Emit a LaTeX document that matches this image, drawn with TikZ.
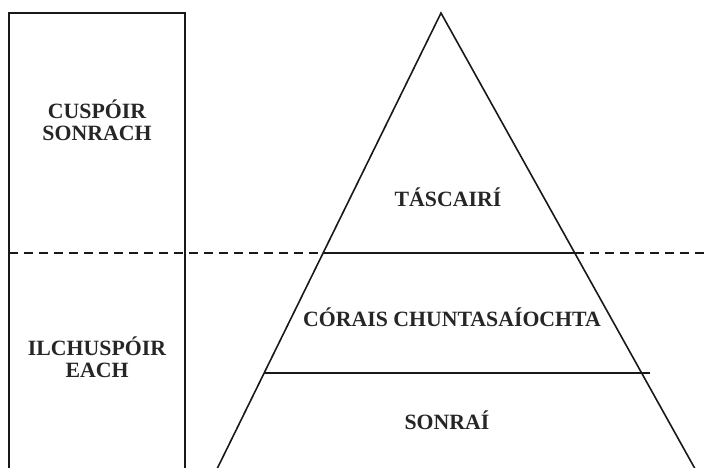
\documentclass[tikz,border=0pt]{standalone}
\usepackage{fontspec}
\setmainfont{Liberation Serif}
\begin{document}
\begin{tikzpicture}[x=1pt,y=-1pt,
  edge/.style={line width=1.6pt,black!90},
  dashline/.style={line width=1.6pt,black!90,dash pattern=on 9pt off 6pt},
  lbl/.style={font=\fontsize{21.8}{22}\selectfont\bfseries,text=black!85,inner sep=0pt,align=center}]
\useasboundingbox (0,0) rectangle (707,467);
% frame
\coordinate (rtl) at (9,13);
\coordinate (rtr) at (185,13);
\coordinate (rbl) at (9,470);
\coordinate (rbr) at (185,470);
\draw[edge] (rbl) -- (rtl) -- (rtr) -- (rbr);
% pyramid
\coordinate (apex) at (441,13);
\coordinate (l1) at (323,253);
\coordinate (r1) at (575,253);
\coordinate (l2) at (264,373);
\coordinate (r2) at (650,373);
\coordinate (lb) at (216.5,470);
\coordinate (rb) at (695.7,470);
\draw[edge] (lb) -- (apex) -- (rb);
\draw[edge] (l1) -- (r1);
\draw[edge] (l2) -- (r2);
% dashed divider
\coordinate (dl) at (9,253);
\coordinate (dr) at (707,253);
\draw[dashline] (dl) -- (l1);
\draw[dashline] (r1) -- (dr);
% labels
\node[lbl] (cs) at (97,120) {CUSPÓIR\\SONRACH};
\node[lbl] (ie) at (97,357) {ILCHUSPÓIR\\EACH};
\node[lbl] (tas) at (448,197) {TÁSCAIRÍ};
\node[lbl] (cor) at (452,317) {CÓRAIS CHUNTASAÍOCHTA};
\node[lbl] (son) at (447,420) {SONRAÍ};
\end{tikzpicture}
\end{document}
